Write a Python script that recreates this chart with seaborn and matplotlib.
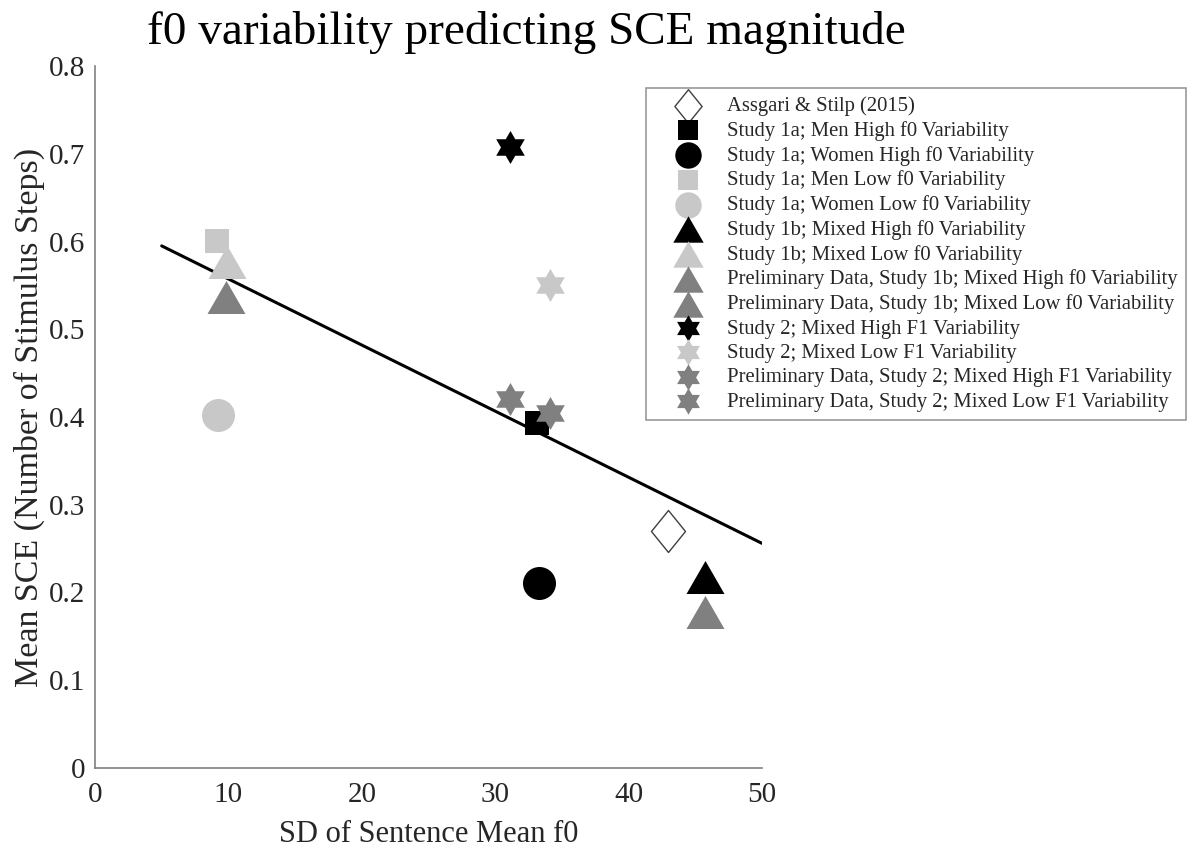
import numpy as np
import matplotlib
matplotlib.use("Agg")
import matplotlib.pyplot as plt
from matplotlib.path import Path
from matplotlib.markers import MarkerStyle
import seaborn as sns

# ---------------- data ----------------
labels = [
    "Assgari & Stilp (2015)",
    "Study 1a; Men High f0 Variability",
    "Study 1a; Women High f0 Variability",
    "Study 1a; Men Low f0 Variability",
    "Study 1a; Women Low f0 Variability",
    "Study 1b; Mixed High f0 Variability",
    "Study 1b; Mixed Low f0 Variability",
    "Preliminary Data, Study 1b; Mixed High f0 Variability",
    "Preliminary Data, Study 1b; Mixed Low f0 Variability",
    "Study 2; Mixed High F1 Variability",
    "Study 2; Mixed Low F1 Variability",
    "Preliminary Data, Study 2; Mixed High F1 Variability",
    "Preliminary Data, Study 2; Mixed Low F1 Variability",
]
sd_f0 = [42.95, 33.1, 33.3, 9.15, 9.2, 45.7, 9.9, 45.7, 9.8, 31.1, 34.1, 31.1, 34.1]
mean_sce = [0.270, 0.393, 0.211, 0.601, 0.402, 0.218, 0.577, 0.178, 0.537, 0.708, 0.550, 0.421, 0.405]
shapes = ["diamond", "square", "circle", "square", "circle", "triangle", "triangle",
          "triangle", "triangle", "star", "star", "star", "star"]
shade = ["white", "black", "black", "light", "light", "black", "light",
         "mid", "mid", "black", "light", "mid", "mid"]

fit_x = [5, 50]
fit_y = [0.595, 0.256]

x_ticks = [0, 10, 20, 30, 40, 50]
y_ticks = [0, 0.1, 0.2, 0.3, 0.4, 0.5, 0.6, 0.7, 0.8]
y_tick_labels = ["0", "0.1", "0.2", "0.3", "0.4", "0.5", "0.6", "0.7", "0.8"]

title = "f0 variability predicting SCE magnitude"
xlabel = "SD of Sentence Mean f0"
ylabel = "Mean SCE (Number of Stimulus Steps)"

# ---------------- styling ----------------
sns.set_style("white")
plt.rcParams["font.family"] = ["Liberation Serif", "DejaVu Serif"]
TXT = "#262626"
SPINE = "#808080"
colors = {"white": "white", "black": "black", "light": "#c8c8c8", "mid": "#808080"}

# marker shapes
def hexagram():
    verts = []
    for k in range(6):
        a = np.deg2rad(90 + 60 * k)
        verts.append((np.cos(a), np.sin(a)))
        b = np.deg2rad(120 + 60 * k)
        r = 1 / np.sqrt(3)
        verts.append((r * np.cos(b), r * np.sin(b)))
    verts.append(verts[0])
    codes = [Path.MOVETO] + [Path.LINETO] * 11 + [Path.CLOSEPOLY]
    return MarkerStyle(Path(verts, codes))

tri_path = Path([(-19, -16.5), (19, -16.5), (0, 16.5), (-19, -16.5)],
                [Path.MOVETO, Path.LINETO, Path.LINETO, Path.CLOSEPOLY])
dia_path = Path([(0, 21), (17, 0), (0, -21), (-17, 0), (0, 21)],
                [Path.MOVETO, Path.LINETO, Path.LINETO, Path.LINETO, Path.CLOSEPOLY])
marker_map = {
    "diamond": (MarkerStyle(dia_path), 914),
    "square": ("s", 299),
    "circle": ("o", 565),
    "triangle": (MarkerStyle(tri_path), 749),
    "star": (hexagram(), 565),
}

fig = plt.figure(figsize=(11.96, 8.5), dpi=100)
ax = fig.add_axes([95 / 1196, 1 - 768 / 850, (762 - 95) / 1196, (768 - 66) / 850])

sns.lineplot(x=fit_x, y=fit_y, color="black", linewidth=2.2, ax=ax, zorder=1)

for xi, yi, shp, sh, lab in zip(sd_f0, mean_sce, shapes, shade, labels):
    mk, s = marker_map[shp]
    if sh == "white":
        sns.scatterplot(x=[xi], y=[yi], marker=mk, s=s, color="white",
                        edgecolor="#404040", linewidth=1.0, label=lab, ax=ax, zorder=3)
    else:
        sns.scatterplot(x=[xi], y=[yi], marker=mk, s=s, color=colors[sh],
                        edgecolor=colors[sh], linewidth=0, label=lab, ax=ax, zorder=3)

ax.set_xlim(0, 50)
ax.set_ylim(0, 0.8)
ax.set_xticks(x_ticks)
ax.set_xticklabels([str(t) for t in x_ticks])
ax.set_yticks(y_ticks)
ax.set_yticklabels(y_tick_labels)
for side in ["top", "right"]:
    ax.spines[side].set_visible(False)
for side in ["left", "bottom"]:
    ax.spines[side].set_color(SPINE)
    ax.spines[side].set_linewidth(1.2)
ax.tick_params(axis="both", direction="in", length=5, width=1, color=SPINE,
               labelsize=21, labelcolor=TXT)
ax.tick_params(axis="x", pad=10)
ax.tick_params(axis="y", pad=7)
ax.set_xlabel(xlabel, fontsize=22, color=TXT, labelpad=9)
ax.set_ylabel(ylabel, fontsize=24.5, color=TXT, labelpad=3)

fig.text(526 / 1196, 1 - 32 / 850, title, ha="center", va="center",
         fontsize=34, color="black")

leg = ax.legend(loc="upper left", bbox_to_anchor=(646 / 1196, 1 - 88 / 850),
                bbox_transform=fig.transFigure, borderaxespad=0,
                fontsize=14.9, markerscale=0.8, frameon=True, fancybox=False,
                borderpad=0.4, handlelength=3.25, handletextpad=0.25,
                labelspacing=0.235, scatterpoints=1)
leg.get_frame().set_edgecolor(SPINE)
leg.get_frame().set_linewidth(1.2)
for t in leg.get_texts():
    t.set_color(TXT)

fig.savefig("out.png", dpi=100, facecolor="white")
